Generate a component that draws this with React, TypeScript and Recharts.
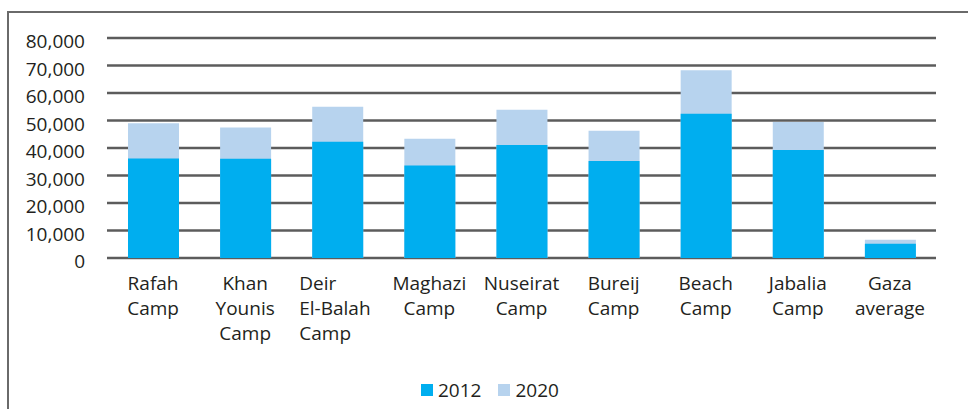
import React from 'react';
import { ComposedChart, Bar, XAxis, YAxis, CartesianGrid, Legend } from 'recharts';

const categories = [
  'Rafah Camp',
  'Khan Younis Camp',
  'Deir El-Balah Camp',
  'Maghazi Camp',
  'Nuseirat Camp',
  'Bureij Camp',
  'Beach Camp',
  'Jabalia Camp',
  'Gaza average',
];
const values2012 = [36200, 36100, 42300, 33600, 41100, 35300, 52500, 39300, 5200];
const values2020 = [49000, 47500, 55000, 43400, 53900, 46300, 68300, 49500, 6600];
const yTicks = [0, 10000, 20000, 30000, 40000, 50000, 60000, 70000, 80000];

const FONT = '"Open Sans", "Noto Sans", sans-serif';
const TEXT = '#231f20';
const C2012 = '#00aeef';
const C2020 = '#b7d3ee';

const data = categories.map((name, i) => ({
  name,
  y2012: values2012[i],
  y2020: values2020[i],
}));

// labels that sit as a left-aligned block in the original
const leftAligned = new Set(['Deir El-Balah Camp']);

const CategoryTick = ({ x, y, payload }: any) => {
  const lines = String(payload.value).split(' ');
  const left = leftAligned.has(payload.value);
  return (
    <g>
      {lines.map((line, i) => (
        <text
          key={i}
          x={left ? x - 38 : x}
          y={y + 2 + i * 25}
          textAnchor={left ? 'start' : 'middle'}
          fontSize={19}
          fontFamily={FONT}
          fill={TEXT}
        >
          {line}
        </text>
      ))}
    </g>
  );
};

const ValueTick = ({ x, y, payload }: any) => (
  <text x={x} y={y + 10} textAnchor="end" fontSize={19} fontFamily={FONT} fill={TEXT}>
    {Number(payload.value).toLocaleString('en-US')}
  </text>
);

const LegendContent = () => (
  <div style={{ display: 'flex', alignItems: 'center', fontFamily: FONT, fontSize: 19, color: TEXT }}>
    {[
      { label: '2012', color: C2012 },
      { label: '2020', color: C2020 },
    ].map((item, i) => (
      <div key={item.label} style={{ display: 'flex', alignItems: 'center', marginLeft: i ? 17 : 0 }}>
        <span style={{ width: 12, height: 12, background: item.color, display: 'inline-block', marginRight: 5 }} />
        <span style={{ lineHeight: '24px' }}>{item.label}</span>
      </div>
    ))}
  </div>
);

export default function App() {
  return (
    <div style={{ position: 'relative', width: 968, height: 409, overflow: 'hidden', background: '#fff' }}>
      <style>{`body{margin:0;overflow:hidden}`}</style>
      <div
        style={{
          position: 'absolute',
          left: 7,
          top: 11,
          width: 1100,
          height: 600,
          border: '2px solid #6a6a6a',
          boxSizing: 'border-box',
        }}
      />
      <div style={{ position: 'absolute', left: 0, top: 0 }}>
        <ComposedChart
          width={968}
          height={409}
          data={data}
          margin={{ top: 38, right: 32, left: 0, bottom: 0 }}
          barCategoryGap={0}
        >
          <CartesianGrid vertical={false} stroke="#5c5c5c" strokeWidth={2.5} />
          <XAxis
            xAxisId="front"
            dataKey="name"
            height={151}
            axisLine={false}
            tickLine={false}
            tickSize={0}
            tickMargin={0}
            interval={0}
            tick={<CategoryTick />}
          />
          <XAxis xAxisId="back" dataKey="name" hide />
          <YAxis
            width={107}
            domain={[0, 80000]}
            ticks={yTicks}
            axisLine={false}
            tickLine={false}
            tickSize={0}
            tickMargin={22}
            tick={<ValueTick />}
          />
          <Legend
            layout="vertical"
            verticalAlign="middle"
            align="center"
            content={<LegendContent />}
            wrapperStyle={{ top: 378, left: 421, width: 'auto' }}
          />
          <Bar xAxisId="back" dataKey="y2020" name="2020" fill={C2020} barSize={51} isAnimationActive={false} />
          <Bar xAxisId="front" dataKey="y2012" name="2012" fill={C2012} barSize={51} isAnimationActive={false} />
        </ComposedChart>
      </div>
    </div>
  );
}
